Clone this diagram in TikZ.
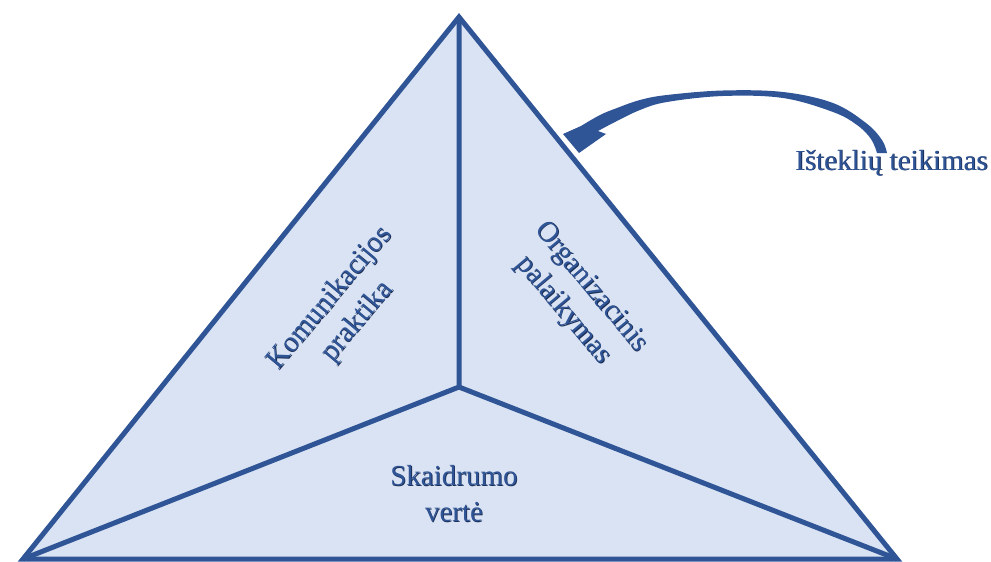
\documentclass[tikz,border=0pt]{standalone}
\usepackage{fontspec}
\setmainfont{Liberation Serif}
\definecolor{edge}{HTML}{2F5597}
\definecolor{face}{HTML}{DAE3F3}
\definecolor{shade}{HTML}{1B2E55}
\tikzset{
  lbl/.style={align=center, font=\fontsize{29}{36}\selectfont, text=edge, inner sep=0pt},
  lblsh/.style={lbl, text=shade},
  rib/.style={draw=edge, line width=5pt, line join=miter},
}
\begin{document}
\begin{tikzpicture}[x=1pt, y=-1pt]
\useasboundingbox (0,0) rectangle (991,562);
% corners of the pyramid and its inner meeting point
\coordinate (A) at (459,17);
\coordinate (B) at (23,559);
\coordinate (C) at (897,559);
\coordinate (O) at (459,387);
\filldraw[rib, fill=face] (A) -- (B) -- (C) -- cycle;
\draw[rib] (A) -- (O) (B) -- (O) (C) -- (O);

% curved block arrow
\fill[edge] plot[smooth, tension=0.6] coordinates {(581,126) (600,115) (617,108) (640,100) (667,95) (723,90.5) (783,92) (833,103) (866,123) (882,140) (887,153)}
  -- plot[smooth, tension=0.6] coordinates {(877,153) (871,139) (857,125) (833,112) (783,98) (723,96) (667,102) (640,110) (615,122) (598,131)}
  -- (606,134) -- (579,153) -- (563,134) -- cycle;

% labels, each with a thin dark shadow beneath
\node[lblsh, rotate=50] (kom-sh) at (344.8,310.8) {Komunikacijos\\praktika};
\node[lbl, rotate=50] (kom) at (344,310) {Komunikacijos\\praktika};
\node[lblsh, rotate=-50] (org-sh) at (577.8,299.8) {Organizacinis\\palaikymas};
\node[lbl, rotate=-50] (org) at (577,299) {Organizacinis\\palaikymas};
\node[lblsh] (ska-sh) at (454.8,494.8) {Skaidrumo\\vertė};
\node[lbl] (ska) at (454,494) {Skaidrumo\\vertė};
\node[lblsh, anchor=base west] (ist-sh) at (795.8,170.8) {Išteklių teikimas};
\node[lbl, anchor=base west] (ist) at (795,170) {Išteklių teikimas};
\end{tikzpicture}
\end{document}
